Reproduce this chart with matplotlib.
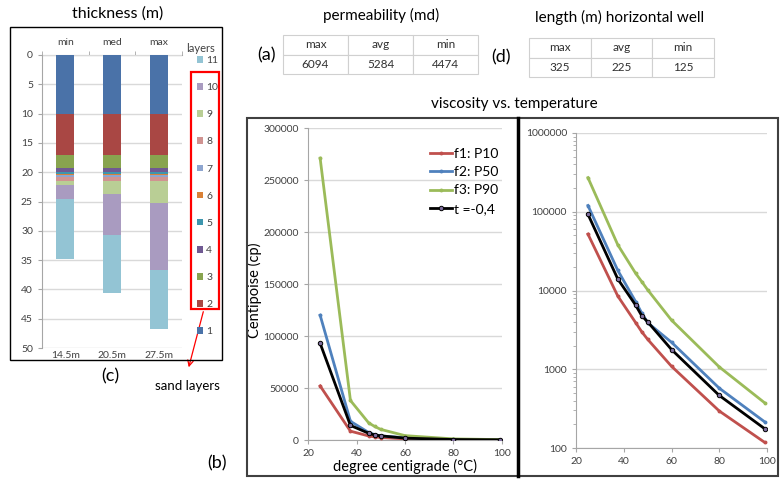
import matplotlib
matplotlib.use("Agg")
import matplotlib.pyplot as plt
from matplotlib.patches import Rectangle
from matplotlib.lines import Line2D
import numpy as np

plt.rcParams['font.family'] = ['Lato', 'DejaVu Sans']

W, H = 780, 479

# thickness (m) per layer, columns min / med / max
columns_top = ["min", "med", "max"]
columns_bottom = ["14.5m", "20.5m", "27.5m"]
layer_names = [str(i) for i in range(1, 12)]
layer_thick = [
    [10, 10, 10],
    [7, 7, 7],
    [2.2, 2.2, 2.2],
    [0.85, 0.85, 0.85],
    [0.2, 0.2, 0.2],
    [0.25, 0.25, 0.25],
    [0.3, 0.3, 0.3],
    [0.7, 0.7, 0.7],
    [0.7, 2.3, 3.8],
    [2.4, 7.0, 11.4],
    [10.2, 9.8, 10.0],
]
layer_colors = ["#4A72A8", "#A94744", "#88A44F", "#705A92", "#3D96AE", "#DA8137",
                "#8EA5CF", "#D09391", "#B9CE95", "#A99BC0", "#93C4D4"]

# tables
table_cols = ["max", "avg", "min"]
perm_vals = ["6094", "5284", "4474"]
length_vals = ["325", "225", "125"]

# viscosity vs temperature
temps = [25, 37.5, 45, 47.5, 50, 60, 80, 99]
f1 = [52000, 8500, 3900, 3000, 2400, 1090, 295, 118]
f2 = [120000, 18000, 7200, 5200, 3900, 2200, 575, 215]
f3 = [271000, 38000, 16500, 13000, 10200, 4200, 1070, 375]
t_fit = [93000, 14000, 6500, 4800, 4000, 1780, 465, 176]


def fx(x):
    return x / W


def fy(y):
    return 1 - y / H


def px_axes(x0, y0, x1, y1):
    return fig.add_axes([fx(x0), fy(y1), (x1 - x0) / W, (y1 - y0) / H])


fig = plt.figure(figsize=(W / 100, H / 100), dpi=100)
tc = "#404040"
grid_c = "#D9D9D9"
spine_c = "#A6A6A6"

# ---------------- thickness stacked bars ----------------
ax = px_axes(42, 55, 182, 348)
pos = np.arange(len(columns_top))
bottom = np.zeros(3)
handles = []
for name, vals, col in zip(layer_names, layer_thick, layer_colors):
    b = ax.bar(pos, vals, bottom=bottom, width=0.39, color=col, edgecolor="none", zorder=3)
    handles.append(b)
    bottom += np.array(vals)
ax.set_ylim(50, 0)
ax.set_xlim(-0.5, 2.5)
ax.set_yticks(np.arange(0, 51, 5))
ax.yaxis.grid(True, color=grid_c, lw=1, zorder=0)
ax.tick_params(axis="y", labelsize=7.5, labelcolor=tc, color=spine_c, length=3)
ax.set_xticks(pos, columns_bottom)
ax.tick_params(axis="x", labelsize=7.5, labelcolor=tc, length=0, pad=2)
for s in ["top", "right", "bottom"]:
    ax.spines[s].set_visible(False)
ax.spines["left"].set_color(spine_c)
sec = ax.secondary_xaxis("top")
sec.set_xticks(pos, columns_top)
sec.set_xticks([-0.5, 0.5, 1.5, 2.5], minor=True)
sec.tick_params(axis="x", which="major", length=0, labelsize=7.5, labelcolor=tc, pad=6)
sec.tick_params(axis="x", which="minor", length=3, color=spine_c)
sec.spines["top"].set_color(spine_c)

leg = ax.legend(handles[::-1], layer_names[::-1], loc="upper left", alignment="left",
                bbox_to_anchor=(fx(197), fy(56)), bbox_transform=fig.transFigure,
                frameon=False, fontsize=7.5, handlelength=0.6,
                handleheight=0.6, handletextpad=0.3, labelspacing=1.74, borderpad=0,
                borderaxespad=0)
for txt in leg.get_texts():
    txt.set_color(tc)
fig.text(fx(201), fy(48), "layers", ha="center", va="center", fontsize=8, color=tc)

fig.add_artist(Rectangle((fx(10), fy(360)), (222 - 10) / W, (360 - 27) / H,
                         transform=fig.transFigure, fill=False, ec="black", lw=1))
fig.add_artist(Rectangle((fx(191), fy(309)), (219 - 191) / W, (309 - 72) / H,
                         transform=fig.transFigure, fill=False, ec="red", lw=1.6))
fig.text(fx(118), fy(14), "thickness (m)", ha="center", va="center", fontsize=11.5)
fig.text(fx(110), fy(376), "(c)", ha="center", va="center", fontsize=13)
fig.text(fx(217), fy(463), "(b)", ha="center", va="center", fontsize=13)
fig.text(fx(187), fy(386), "sand layers", ha="center", va="center", fontsize=9.5)
ax.annotate("", xy=(fx(188), fy(370)), xytext=(fx(204), fy(309)),
            xycoords="figure fraction", textcoords="figure fraction",
            arrowprops=dict(arrowstyle="->", color="red", lw=0.9))

# ---------------- tables ----------------
def draw_table(x0, y0, x1, y1, vals):
    tab = fig.add_axes([fx(x0), fy(y1), (x1 - x0) / W, (y1 - y0) / H])
    tab.set_axis_off()
    tb = tab.table(cellText=[table_cols, vals], cellLoc="center", loc="center",
                   bbox=[0, 0, 1, 1])
    tb.auto_set_font_size(False)
    tb.set_fontsize(8.5)
    for cell in tb.get_celld().values():
        cell.set_edgecolor("#D0D0D0")
        cell.set_linewidth(0.8)
        cell.get_text().set_color("#303030")


draw_table(283, 35, 478, 74, perm_vals)
draw_table(529, 38, 714, 77, length_vals)
fig.text(fx(381), fy(15), "permeability (md)", ha="center", va="center", fontsize=11)
fig.text(fx(620), fy(17), "length (m) horizontal well", ha="center", va="center", fontsize=11)
fig.text(fx(266), fy(55), "(a)", ha="center", va="center", fontsize=13)
fig.text(fx(501), fy(57), "(d)", ha="center", va="center", fontsize=13)
fig.text(fx(514), fy(104), "viscosity vs. temperature", ha="center", va="center", fontsize=11)

# ---------------- viscosity charts ----------------
series = [("f1: P10", f1, "#C0504D"), ("f2: P50", f2, "#4F81BD"), ("f3: P90", f3, "#9BBB59")]


def style_line_axes(a):
    for s in ["top", "right"]:
        a.spines[s].set_visible(False)
    a.spines["left"].set_color(spine_c)
    a.spines["bottom"].set_color(spine_c)
    a.yaxis.grid(True, which="major", color=grid_c, lw=1, zorder=0)
    a.tick_params(labelsize=7.5, labelcolor=tc, color=spine_c, length=3)
    a.set_xlim(20, 100)
    a.set_xticks([20, 40, 60, 80, 100])


ax1 = px_axes(308, 128, 502, 440)
ax2 = px_axes(576, 133, 767, 448)
for a in (ax1, ax2):
    for lab, vals, col in series:
        a.plot(temps, vals, color=col, lw=2, marker="o", ms=1.8, label=lab, zorder=3)
    a.plot(temps, t_fit, color="black", lw=2, marker="o", ms=3.2, mfc="#7F6F9F",
           mec="black", mew=0.7, label="t =-0,4", zorder=4)
    style_line_axes(a)

ax1.set_ylim(0, 300000)
ax1.set_yticks(np.arange(0, 300001, 50000))
ax1.set_ylabel("Centipoise (cp)", fontsize=10.5, va="center")
ax1.yaxis.set_label_coords(fx(254), fy(290), transform=fig.transFigure)
ax1.set_xlabel("degree centigrade (\u00b0C)", fontsize=10.5, labelpad=1)
ax1.legend(loc="upper left", bbox_to_anchor=(fx(430), fy(148)), bbox_transform=fig.transFigure,
           frameon=False, fontsize=10, handlelength=1.6, handletextpad=0.15,
           labelspacing=0.45, borderpad=0, borderaxespad=0)

ax2.set_yscale("log")
ax2.set_ylim(100, 1000000)
ax2.set_yticks([100, 1000, 10000, 100000, 1000000])
ax2.set_yticklabels(["100", "1000", "10000", "100000", "1000000"])
ax2.tick_params(axis="y", which="minor", length=2, color=spine_c)

fig.add_artist(Rectangle((fx(247), fy(476)), (778 - 247) / W, (476 - 118) / H,
                         transform=fig.transFigure, fill=False, ec="#404040", lw=1.5))
fig.add_artist(Line2D([fx(518), fx(518)], [fy(118), fy(476)], transform=fig.transFigure,
                      color="black", lw=2.5))

fig.savefig("out.png", dpi=100)
